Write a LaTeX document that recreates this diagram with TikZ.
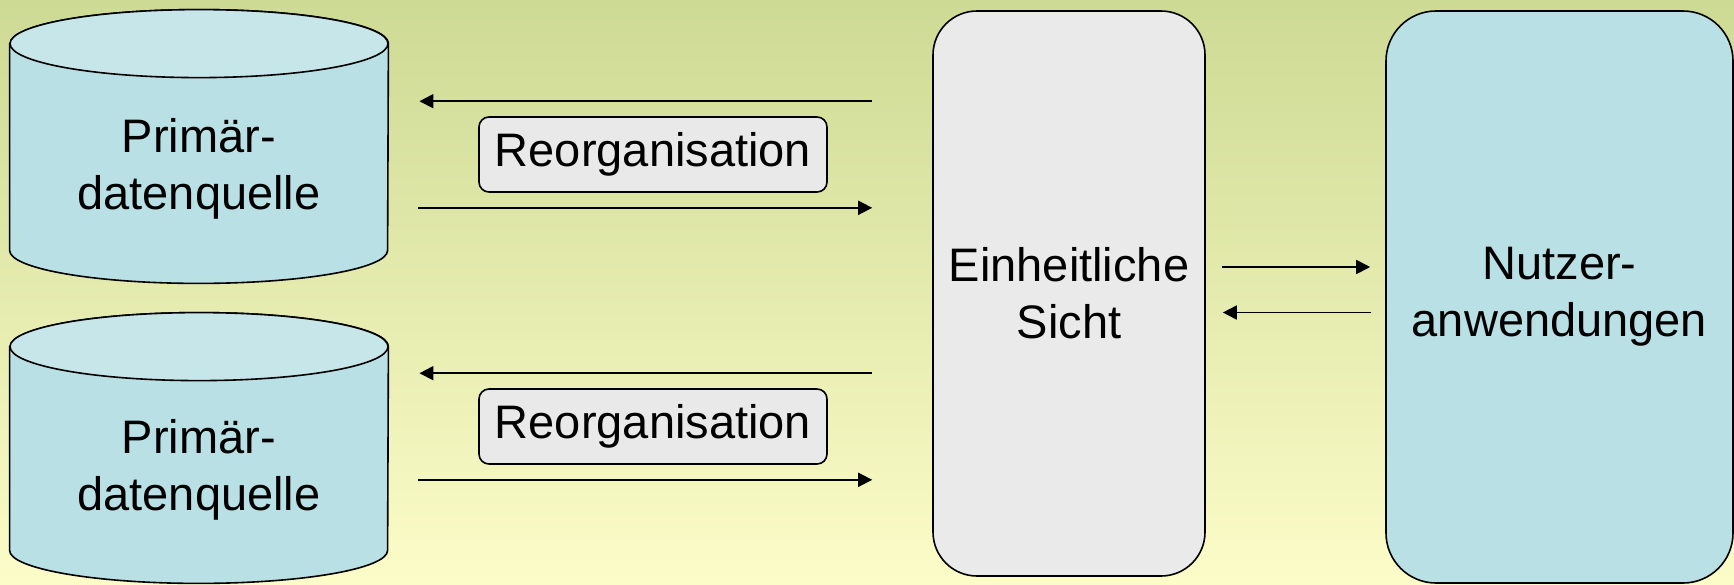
\documentclass[tikz,border=0pt]{standalone}
\usepackage{fontspec}
\setmainfont{Liberation Sans}
\usetikzlibrary{arrows.meta,calc}

\definecolor{bgtop}{RGB}{205,218,148}
\definecolor{bgbottom}{RGB}{252,252,200}
\definecolor{drumside}{RGB}{185,224,228}
\definecolor{drumlid}{RGB}{199,230,233}
\definecolor{viewgray}{RGB}{234,234,234}
\definecolor{appcyan}{RGB}{185,224,228}
\definecolor{tagfill}{RGB}{233,233,233}

\pgfdeclarelayer{paper}
\pgfdeclarelayer{shapes}
\pgfsetlayers{paper,shapes,main}

\tikzset{
  outline/.style={draw=black, line width=0.8pt},
  drum/.style={minimum width=189pt, inner sep=0pt},
  drumtext/.style={align=center, yshift=-11pt},
  viewbox/.style={outline, fill=viewgray, rounded corners=22pt,
    minimum width=136pt, minimum height=282.5pt, align=center, inner sep=0pt},
  appbox/.style={outline, fill=appcyan, rounded corners=25pt,
    minimum width=173.5pt, minimum height=286pt, align=center, inner sep=0pt},
  tag/.style={outline, fill=tagfill, rounded corners=5pt,
    minimum width=174pt, minimum height=37.5pt, inner sep=0pt},
  flow/.style={line width=0.9pt, -{Triangle[length=7pt,width=7pt]}},
}

% cylinder outline around a node: #1 node, #2 lid y-radius, #3 base y-radius
\newcommand\drawdrum[3]{%
  \draw[outline, fill=drumside] ([yshift=-#2]#1.north west) -- ([yshift=#3]#1.south west)
    arc[start angle=180, end angle=360, x radius=94.5pt, y radius=#3]
    -- ([yshift=-#2]#1.north east)
    arc[start angle=0, end angle=180, x radius=94.5pt, y radius=#2] -- cycle;
  \draw[outline, fill=drumlid] ([yshift=-#2]#1.north) ellipse[x radius=94.5pt, y radius=#2];
}

\begin{document}
\begin{tikzpicture}[x=0.5pt, y=-0.5pt, font=\fontsize{23.5pt}{28.5pt}\selectfont]
  \useasboundingbox (0,0) rectangle (1734,584);
  \begin{pgfonlayer}{paper}
    \shade[top color=bgtop, bottom color=bgbottom] (0,0) rectangle (1734,584);
  \end{pgfonlayer}

  % data sources
  \node[drum, minimum height=136.5pt,
        label={[drumtext]center:{Primär-\\datenquelle}}] (src1) at (199,146.5) {};
  \node[drum, minimum height=135pt,
        label={[drumtext]center:{Primär-\\datenquelle}}] (src2) at (199,448) {};
  \begin{pgfonlayer}{shapes}
    \drawdrum{src1}{17pt}{16.5pt}
    \drawdrum{src2}{17pt}{16.5pt}
  \end{pgfonlayer}

  % unified view and applications
  \node[viewbox] (view) at (1069,293.5) {Einheitliche\\Sicht};
  \node[appbox] (apps) at (1559.5,297) {Nutzer-\\anwendungen};

  % reorganisation labels
  \node[tag] (reorg1) at (653,154.5) {Reorganisation};
  \node[tag] (reorg2) at (653,426.5) {Reorganisation};

  % flows between sources and view
  \foreach \r/\s in {reorg1/src1, reorg2/src2}{
    \draw[flow, shorten <=30pt, shorten >=15.5pt]
      ($(\r.north -| view.west)+(0,-15)$) -- ($(\r.north -| \s.east)+(0,-15)$);
    \draw[flow, shorten <=15pt, shorten >=30pt]
      ($(\r.south -| \s.east)+(0,15)$) -- ($(\r.south -| view.west)+(0,15)$);
  }

  % flows between view and applications
  \draw[flow, shorten <=8pt, shorten >=7.5pt]
    ($(view.east)+(0,-26.5)$) -- ($(view.east -| apps.west)+(0,-26.5)$);
  \draw[flow, shorten <=7pt, shorten >=8.5pt]
    ($(view.east -| apps.west)+(0,19)$) -- ($(view.east)+(0,19)$);
\end{tikzpicture}
\end{document}
